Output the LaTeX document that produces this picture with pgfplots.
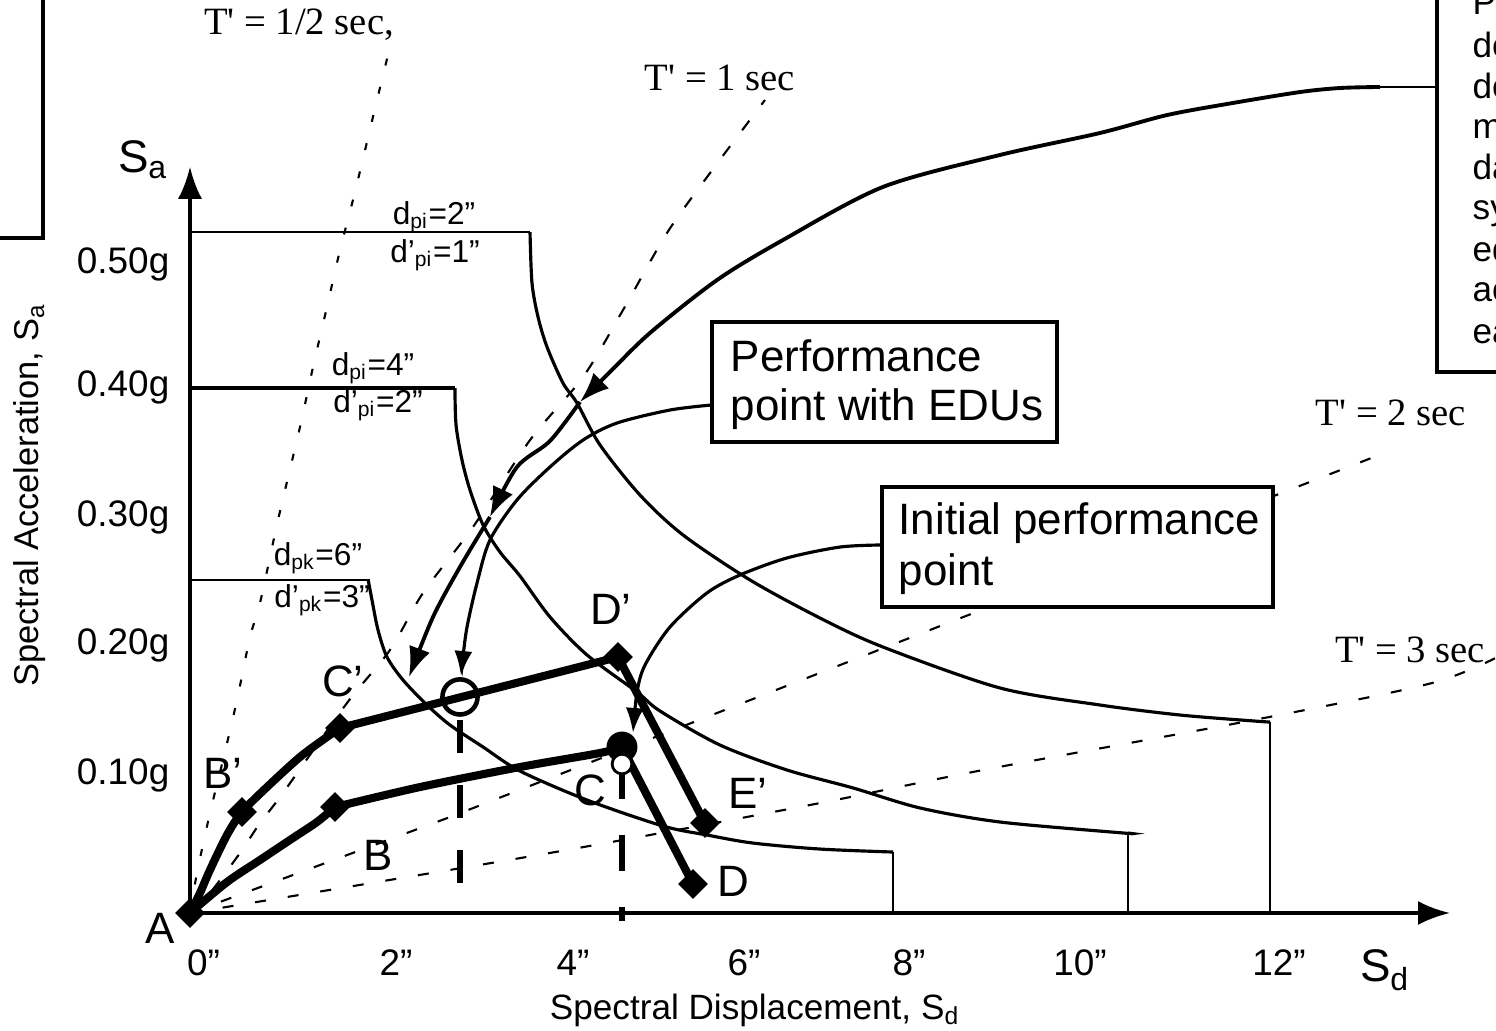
\documentclass[border=0pt]{standalone}
\usepackage{fontspec}
\setmainfont{Liberation Sans}
\newfontfamily\serifT{Liberation Serif}
\usepackage{pgfplots}
\pgfplotsset{compat=1.18}
\usetikzlibrary{arrows.meta}

\begin{document}
\begin{tikzpicture}
\useasboundingbox (-1.90,-1.17) rectangle (13.06,9.13);
\clip (-1.90,-1.17) rectangle (13.06,9.13);
\begin{axis}[
  anchor=origin, at={(0,0)},
  x=0.9cm, y=13cm,
  xmin=0, xmax=14, ymin=0, ymax=0.574,
  axis lines=left,
  axis line style={line width=1pt},
  x axis line style={-{Latex[length=3.2mm,width=2.4mm]}},
  y axis line style={-{Latex[length=3.2mm,width=2.4mm]}},
  major tick length=0pt,
  tick style={draw=none},
  xtick={0.15,2.289,4.256,6.156,7.989,9.889,12.1},
  xticklabels={0",2",4",6",8",10",12"},
  ytick={0.106,0.206,0.304,0.404,0.499},
  yticklabels={0.10g,0.20g,0.30g,0.40g,0.50g},
  tick label style={font=\fontsize{10.5}{12}\selectfont},
  xticklabel style={anchor=center, yshift=-0.5cm},
  yticklabel style={anchor=east, inner sep=0pt, xshift=-0.2cm},
  xlabel={Spectral Displacement, S\textsubscript{d}},
  ylabel={Spectral Acceleration, S\textsubscript{a}},
  xlabel style={at={(axis description cs:0.4484,-0.13)}, anchor=center, font=\fontsize{10}{12}\selectfont},
  ylabel style={at={(axis description cs:-0.127,0.560)}, anchor=center, font=\fontsize{9.8}{12}\selectfont},
  clip=false,
]
% ---------- demand spectra ----------
\addplot[line width=0.7pt, sharp plot] coordinates {(0,0.5238) (3.778,0.5238)};
\addplot[line width=0.9pt, smooth] coordinates {(3.778,0.5238) (3.80,0.4846) (3.867,0.4585) (3.967,0.4354) (4.144,0.4077) (4.30,0.3923) (4.556,0.36) (5.0,0.3215) (5.478,0.2908) (6.222,0.2562) (7.0,0.2269) (7.70,0.2046) (9.0,0.1731) (10.111,0.16) (11.0,0.1523) (11.822,0.1477) (12.0,0.1469)};
\addplot[line width=0.8pt, sharp plot] coordinates {(12.0,0.1469) (12.0,0)};

\addplot[line width=1pt, sharp plot] coordinates {(0,0.4038) (2.944,0.4038)};
\addplot[line width=0.9pt, smooth] coordinates {(2.944,0.4038) (2.956,0.3754) (3.022,0.3485) (3.111,0.3254) (3.256,0.2985) (3.444,0.2777) (3.667,0.2592) (4.0,0.2277) (4.411,0.1985) (4.967,0.17) (5.222,0.1554) (5.889,0.1292) (6.633,0.11) (7.367,0.0962) (8.111,0.0808) (9.0,0.07) (10.378,0.0615) (10.422,0.0615)};
\addplot[line width=0.8pt, sharp plot] coordinates {(10.422,0.0615) (10.422,0)};

\addplot[line width=0.7pt, sharp plot] coordinates {(0,0.2562) (2.0,0.2562)};
\addplot[line width=0.9pt, smooth] coordinates {(1.98,0.2562) (2.022,0.2408) (2.089,0.2177) (2.189,0.1969) (2.367,0.1792) (2.633,0.16) (2.889,0.1446) (3.256,0.1277) (3.667,0.1092) (4.411,0.0869) (5.256,0.0669) (5.744,0.06) (6.256,0.0538) (7.0,0.0492) (7.811,0.0469)};
\addplot[line width=0.8pt, sharp plot] coordinates {(7.811,0.0469) (7.811,0)};

% ---------- period lines ----------
\addplot[line width=0.6pt, smooth, dash pattern=on 0.7mm off 2.2mm] coordinates {(0,0) (0.078,0.0308) (0.222,0.0769) (0.367,0.1177) (0.522,0.1638) (0.667,0.2123) (0.778,0.2385) (0.978,0.3023) (1.222,0.3738) (1.367,0.42) (1.522,0.4662) (1.667,0.51) (1.833,0.5546) (2.078,0.6254) (2.2,0.66)};
\addplot[line width=0.6pt, smooth, dash pattern=on 1.2mm off 2.0mm] coordinates {(0,0) (0.222,0.0154) (0.556,0.0462) (0.778,0.0692) (1.033,0.0923) (1.744,0.1615) (2.222,0.2023) (2.589,0.2462) (3.144,0.2969) (3.778,0.3638) (4.367,0.4123) (4.811,0.4638) (5.3,0.5231) (5.778,0.5692) (6.389,0.6254)};
\addplot[line width=0.6pt, sharp plot, dash pattern=on 1.1mm off 2.2mm] coordinates {(0,0) (2.889,0.0738) (13.2,0.352)};
\addplot[line width=0.6pt, smooth, dash pattern=on 1.1mm off 2.2mm] coordinates {(0,0) (4.0,0.0462) (6.889,0.0831) (8.811,0.11) (11.822,0.1485) (13.8,0.1769) (14.6,0.1995)};

% ---------- capacity curves ----------
\addplot[line width=2.3pt, smooth, line join=round] coordinates {(0,0) (0.111,0.0154) (0.222,0.0331) (0.411,0.06) (0.578,0.0777) (0.856,0.0969) (1.222,0.12) (1.522,0.1354) (1.667,0.1423)};
\addplot[line width=2.3pt, sharp plot, line join=round] coordinates {(1.667,0.1423) (4.756,0.1969) (5.722,0.0692)};
\addplot[line width=2.3pt, smooth, line join=round] coordinates {(0,0) (0.411,0.0238) (0.778,0.0408) (1.144,0.0577) (1.411,0.07) (1.611,0.0815)};
\addplot[line width=2.3pt, smooth, line join=round] coordinates {(1.611,0.0815) (2.556,0.0969) (3.667,0.1123) (4.556,0.1231) (4.8,0.1277)};
\addplot[line width=2.3pt, sharp plot, line join=round] coordinates {(4.8,0.1277) (5.589,0.0223)};

% markers
\addplot[only marks, mark=square*, mark size=2.8pt, mark options={rotate=45}] coordinates {(0,0) (0.578,0.0777) (1.667,0.1423) (4.756,0.1969) (5.722,0.0692) (1.611,0.0815) (5.589,0.0223)};
\addplot[only marks, mark=o, mark size=5pt, mark options={line width=1.3pt}] coordinates {(3.0,0.1662)};
\addplot[only marks, mark=*, mark size=4.2pt] coordinates {(4.8,0.1277)};
\addplot[only marks, mark=*, mark size=2.8pt, mark options={fill=white, draw=black, line width=0.8pt}] coordinates {(4.8,0.1146)};

% dashed verticals from the performance points
\addplot[line width=1.7pt, dash pattern=on 3.3mm off 3.2mm] coordinates {(3.0,0.1485) (3.0,0.02)};
\addplot[line width=1.7pt, dash pattern=on 3.6mm off 3.6mm] coordinates {(4.8,0.1154) (4.8,-0.006)};

% ---------- arrows ----------
\addplot[line width=0.6pt] coordinates {(13.856,0.6354) (13.1,0.6354)};
\addplot[line width=1.1pt, smooth, -{Latex[length=3mm,width=2.2mm]}] coordinates {(13.222,0.6354) (12.778,0.6346) (12.333,0.6315) (11.589,0.6231) (10.856,0.6138) (10.111,0.6) (9.0,0.5831) (7.7,0.5585) (6.589,0.5177) (5.856,0.4869) (5.111,0.4462) (4.667,0.4162) (4.333,0.3931)};
\addplot[line width=1.1pt, smooth, -{Latex[length=3mm,width=2.2mm]}] coordinates {(4.333,0.3931) (4.0,0.3631) (3.633,0.3431) (3.333,0.3046)};
\addplot[line width=1.1pt, smooth, -{Latex[length=3mm,width=2.2mm]}] coordinates {(3.333,0.3046) (3.0,0.2662) (2.7,0.2277) (2.433,0.1815)};
\addplot[line width=0.9pt, smooth, -{Latex[length=2.5mm,width=1.8mm]}] coordinates {(5.8,0.3908) (5.333,0.3869) (4.744,0.3769) (4.367,0.3638) (4.0,0.3431) (3.633,0.3177) (3.333,0.2869) (3.189,0.2538) (3.078,0.22) (3.033,0.1969) (3.011,0.1823)};
\addplot[line width=0.9pt, smooth, -{Latex[length=2.5mm,width=1.8mm]}] coordinates {(7.689,0.2831) (7.222,0.2815) (6.633,0.2731) (6.111,0.26) (5.744,0.2462) (5.333,0.22) (5.056,0.1908) (4.967,0.17) (4.922,0.1385)};

% ---------- boxes ----------
\draw[line width=0.9pt, fill=white] (axis cs:5.8,0.3623) rectangle (axis cs:9.633,0.4546);
\node[anchor=base west, inner sep=0pt, font=\fontsize{12.5}{14}\selectfont] at (axis cs:6.0,0.4162) {Performance};
\node[anchor=base west, inner sep=0pt, font=\fontsize{12.5}{14}\selectfont] at (axis cs:6.0,0.3792) {point with EDUs};
\draw[line width=0.9pt, fill=white] (axis cs:7.689,0.2354) rectangle (axis cs:12.033,0.3277);
\node[anchor=base west, inner sep=0pt, font=\fontsize{12.5}{14}\selectfont] at (axis cs:7.867,0.2908) {Initial performance};
\node[anchor=base west, inner sep=0pt, font=\fontsize{12.5}{14}\selectfont] at (axis cs:7.867,0.2523) {point};
\draw[line width=0.9pt, fill=white] (axis cs:13.856,0.9) -- (axis cs:13.856,0.4162) -- (axis cs:16,0.4162) -- (axis cs:16,0.9) -- cycle;
\draw[line width=1pt] (axis cs:-3,0.5192) -- (axis cs:-1.633,0.5192) -- (axis cs:-1.633,0.9);
\node[anchor=base west, inner sep=0pt, font=\fontsize{10}{12}\selectfont] at (axis cs:14.244,0.6915) {Performance};
\node[anchor=base west, inner sep=0pt, font=\fontsize{10}{12}\selectfont] at (axis cs:14.244,0.6584) {determined};
\node[anchor=base west, inner sep=0pt, font=\fontsize{10}{12}\selectfont] at (axis cs:14.244,0.6269) {demand};
\node[anchor=base west, inner sep=0pt, font=\fontsize{10}{12}\selectfont] at (axis cs:14.244,0.5961) {modified};
\node[anchor=base west, inner sep=0pt, font=\fontsize{10}{12}\selectfont] at (axis cs:14.244,0.5646) {damping};
\node[anchor=base west, inner sep=0pt, font=\fontsize{10}{12}\selectfont] at (axis cs:14.244,0.5331) {system};
\node[anchor=base west, inner sep=0pt, font=\fontsize{10}{12}\selectfont] at (axis cs:14.244,0.5015) {equivalent};
\node[anchor=base west, inner sep=0pt, font=\fontsize{10}{12}\selectfont] at (axis cs:14.244,0.4700) {accounting};
\node[anchor=base west, inner sep=0pt, font=\fontsize{10}{12}\selectfont] at (axis cs:14.244,0.4384) {each};

% ---------- labels ----------
\node[font=\serifT\fontsize{11}{13}\selectfont] at (axis cs:1.211,0.6831) {T' = 1/2 sec,};
\node[font=\serifT\fontsize{11}{13}\selectfont] at (axis cs:5.889,0.6423) {T' = 1 sec};
\node[font=\serifT\fontsize{11}{13}\selectfont] at (axis cs:13.344,0.3846) {T' = 2 sec};
\node[font=\serifT\fontsize{11}{13}\selectfont] at (axis cs:13.556,0.2023) {T' = 3 sec};

\node[font=\fontsize{9}{11}\selectfont] at (axis cs:2.711,0.5354) {d\textsubscript{pi}=2"};
\node[font=\fontsize{9}{11}\selectfont] at (axis cs:2.722,0.5062) {d'\textsubscript{pi}=1"};
\node[font=\fontsize{9}{11}\selectfont] at (axis cs:2.033,0.4192) {d\textsubscript{pi}=4"};
\node[font=\fontsize{9}{11}\selectfont] at (axis cs:2.089,0.3908) {d'\textsubscript{pi}=2"};
\node[font=\fontsize{9}{11}\selectfont] at (axis cs:1.422,0.2731) {d\textsubscript{pk}=6"};
\node[font=\fontsize{9}{11}\selectfont] at (axis cs:1.467,0.2408) {d'\textsubscript{pk}=3"};

\node[font=\fontsize{13}{15}\selectfont] at (axis cs:-0.522,0.5792) {S\textsubscript{a}};
\node[font=\fontsize{13}{15}\selectfont] at (axis cs:13.278,-0.0438) {S\textsubscript{d}};

\node[font=\fontsize{12.5}{14}\selectfont] at (axis cs:-0.333,-0.0115) {A};
\node[font=\fontsize{12.5}{14}\selectfont] at (axis cs:0.367,0.1077) {B'};
\node[font=\fontsize{12.5}{14}\selectfont] at (axis cs:1.7,0.1785) {C'};
\node[font=\fontsize{12.5}{14}\selectfont] at (axis cs:4.678,0.2338) {D'};
\node[font=\fontsize{12.5}{14}\selectfont] at (axis cs:6.2,0.0923) {E'};
\node[font=\fontsize{12.5}{14}\selectfont] at (axis cs:2.089,0.0446) {B};
\node[font=\fontsize{12.5}{14}\selectfont] at (axis cs:4.444,0.0946) {C};
\node[font=\fontsize{12.5}{14}\selectfont] at (axis cs:6.033,0.0246) {D};
\end{axis}
\end{tikzpicture}
\end{document}
